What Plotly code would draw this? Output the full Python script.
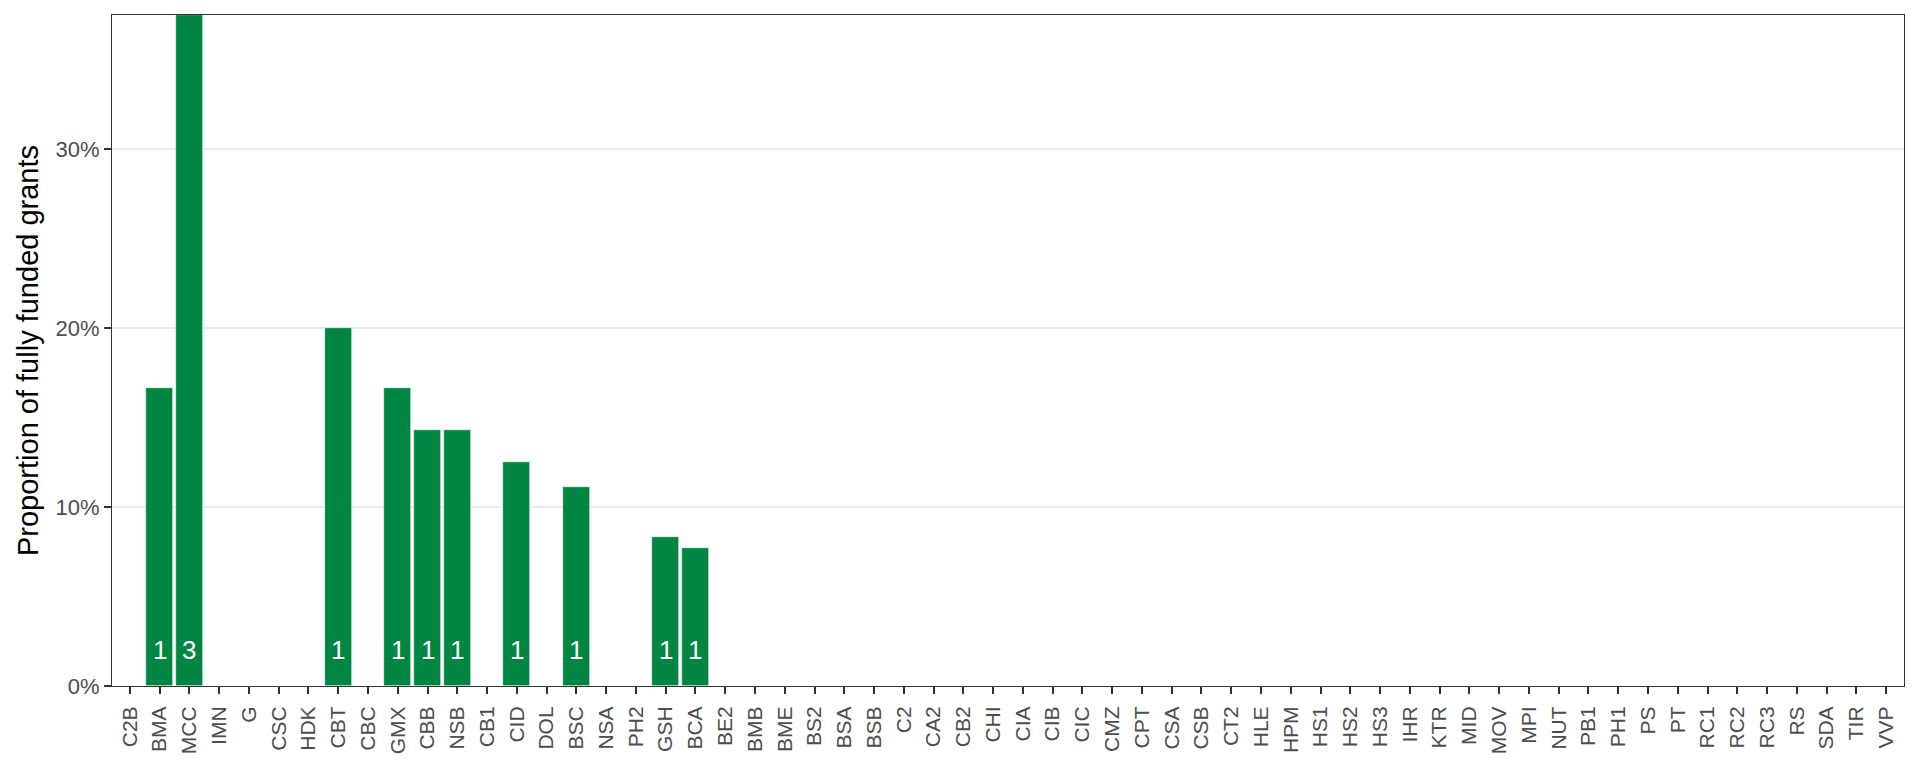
import plotly.graph_objects as go

categories = ["C2B", "BMA", "MCC", "IMN", "G", "CSC", "HDK", "CBT", "CBC", "GMX",
              "CBB", "NSB", "CB1", "CID", "DOL", "BSC", "NSA", "PH2", "GSH", "BCA",
              "BE2", "BMB", "BME", "BS2", "BSA", "BSB", "C2", "CA2", "CB2", "CHI",
              "CIA", "CIB", "CIC", "CMZ", "CPT", "CSA", "CSB", "CT2", "HLE", "HPM",
              "HS1", "HS2", "HS3", "IHR", "KTR", "MID", "MOV", "MPI", "NUT", "PB1",
              "PH1", "PS", "PT", "RC1", "RC2", "RC3", "RS", "SDA", "TIR", "VVP"]

funded_counts = {"BMA": 1, "MCC": 3, "CBT": 1, "GMX": 1, "CBB": 1, "NSB": 1,
                 "CID": 1, "BSC": 1, "GSH": 1, "BCA": 1}
proportions = {"BMA": 1 / 6, "MCC": 3 / 8, "CBT": 1 / 5, "GMX": 1 / 6, "CBB": 1 / 7,
               "NSB": 1 / 7, "CID": 1 / 8, "BSC": 1 / 9, "GSH": 1 / 12, "BCA": 1 / 13}

y_ticks = [0, 0.1, 0.2, 0.3]
y_tick_labels = ["0%", "10%", "20%", "30%"]
label_y = 0.02

values = [proportions.get(c, 0) for c in categories]

FONT = "Liberation Sans, Arial, Helvetica, sans-serif"
GREEN = "#008542"

fig = go.Figure()
fig.add_trace(go.Bar(
    x=categories, y=values, width=0.9,
    marker=dict(color=GREEN, line=dict(color="white", width=0.6)),
    hoverinfo="x+y", showlegend=False,
))

for c in categories:
    if c in funded_counts:
        fig.add_annotation(
            x=c, y=label_y, xref="x", yref="y", text=str(funded_counts[c]),
            showarrow=False, yanchor="middle",
            font=dict(family=FONT, size=26, color="white"),
        )

# page body has an 8px margin, so the figure is offset by 8px
fig.update_layout(
    width=1912, height=760,
    margin=dict(l=104, r=16, t=7, b=82),
    plot_bgcolor="white", paper_bgcolor="white",
    font=dict(family=FONT, color="#4D4D4D"),
    bargap=0,
    xaxis=dict(
        type="category", categoryorder="array", categoryarray=categories,
        range=[-0.6, len(categories) - 0.4], automargin=False,
        showgrid=False, zeroline=False,
        showline=True, linecolor="#333333", linewidth=1, mirror=True,
        ticks="outside", ticklen=7, tickwidth=1.5, tickcolor="#333333",
        tickangle=-90, tickfont=dict(family=FONT, size=21, color="#4D4D4D"),
        ticklabelstandoff=4,
    ),
    yaxis=dict(
        range=[0, max(values)], automargin=False,
        tickvals=y_ticks, ticktext=y_tick_labels,
        showgrid=True, gridcolor="#EBEBEB", gridwidth=1.5,
        zeroline=False,
        showline=True, linecolor="#333333", linewidth=1, mirror=True,
        ticks="outside", ticklen=7, tickwidth=1.5, tickcolor="#333333",
        tickfont=dict(family=FONT, size=22, color="#4D4D4D"),
        title=dict(text="Proportion of fully funded grants",
                   font=dict(family=FONT, size=29, color="black"), standoff=8),
    ),
)

fig.write_html("out.html")
